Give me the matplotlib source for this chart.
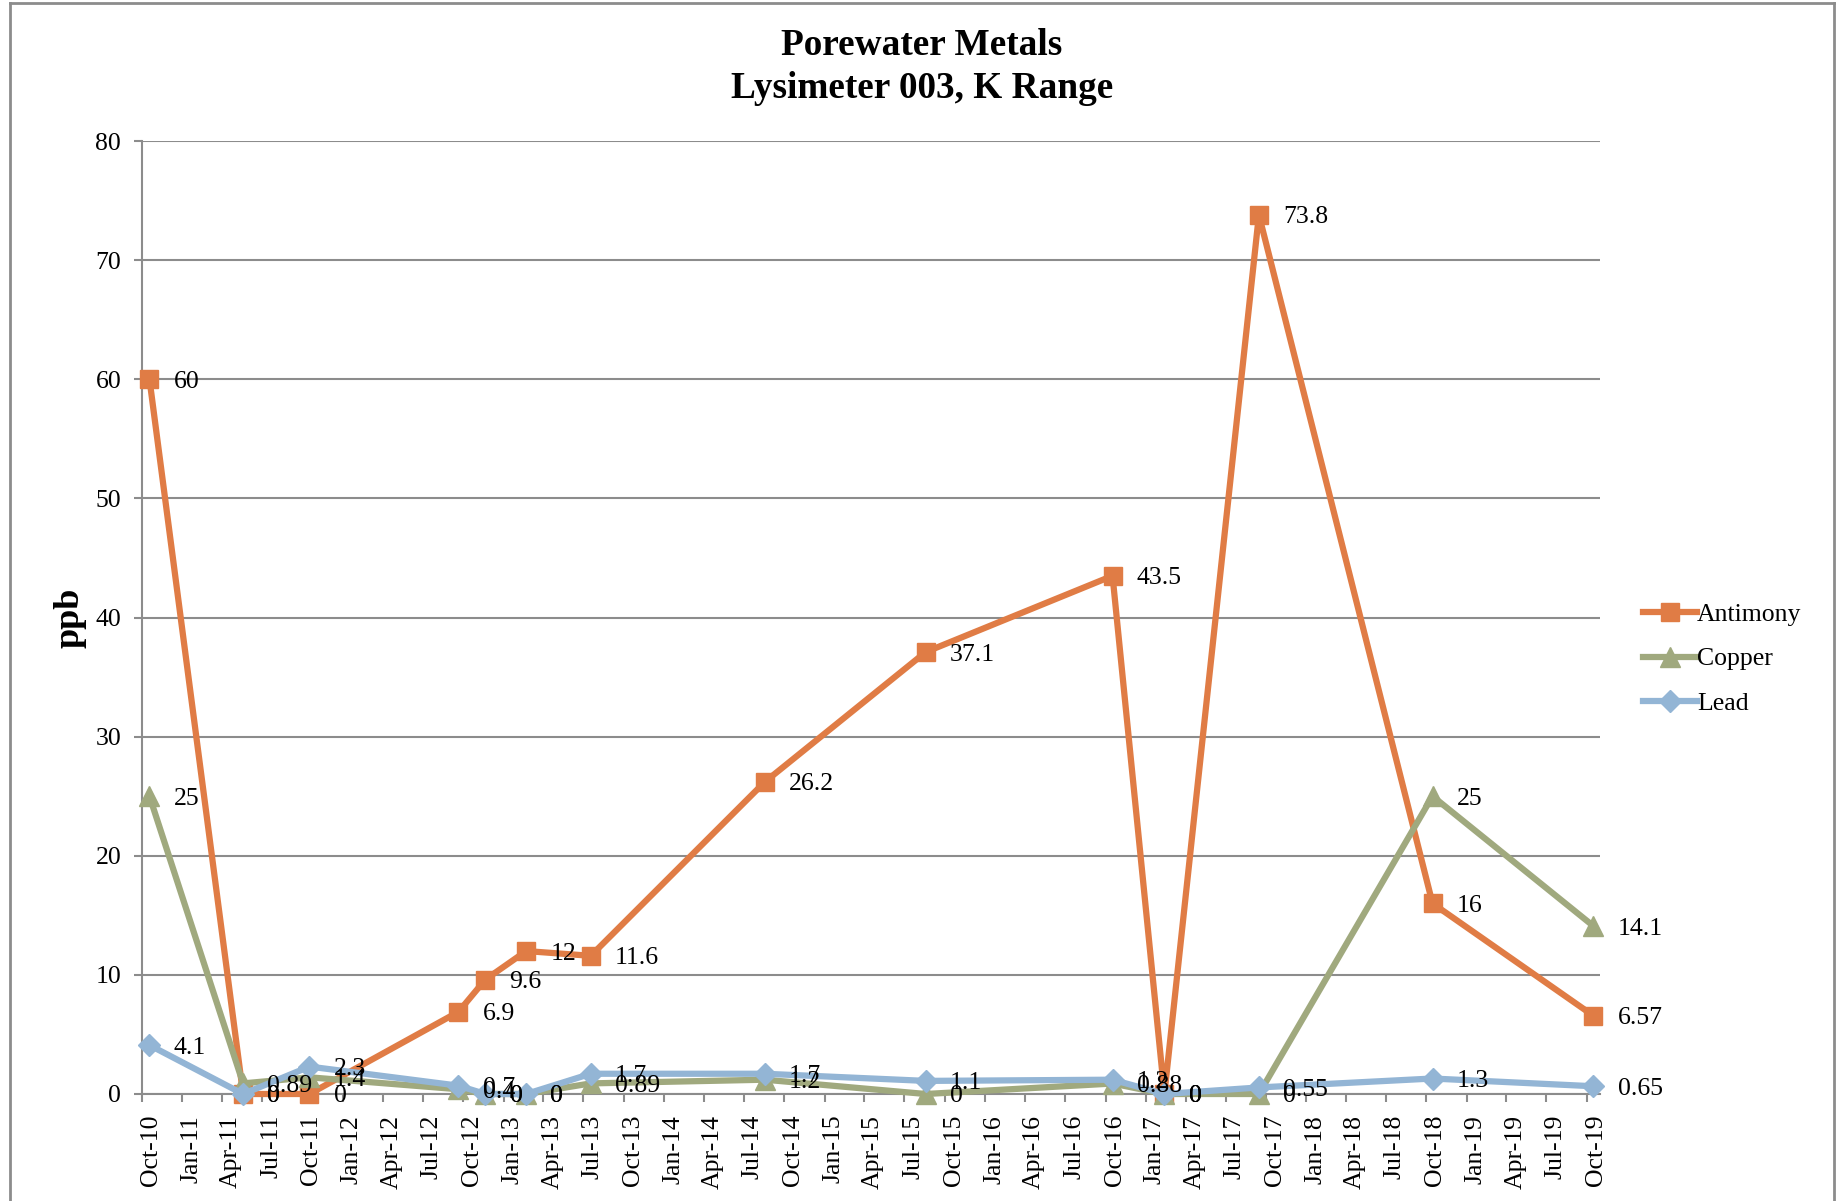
import matplotlib
matplotlib.use("Agg")
import matplotlib.pyplot as plt
import matplotlib.dates as mdates
from matplotlib.lines import Line2D
import datetime as dt

plt.rcParams['font.family'] = ['Liberation Serif', 'DejaVu Serif']

# ---- data ----
dates = ["2010-10-18", "2011-05-19", "2011-10-17", "2012-09-20", "2012-11-20",
         "2013-02-21", "2013-07-18", "2014-08-18", "2015-08-19", "2016-10-17",
         "2017-02-12", "2017-09-15", "2018-10-15", "2019-10-16"]
antimony = [60, 0, 0, 6.9, 9.6, 12, 11.6, 26.2, 37.1, 43.5, 0, 73.8, 16, 6.57]
copper = [25, 0.89, 1.4, 0.4, 0, 0, 0.89, 1.2, 0, 0.88, 0, 0, 25, 14.1]
lead = [4.1, 0, 2.3, 0.7, 0, 0, 1.7, 1.7, 1.1, 1.2, 0, 0.55, 1.3, 0.65]
series_names = ["Antimony", "Copper", "Lead"]
title = "Porewater Metals\nLysimeter 003, K Range"
ylabel = "ppb"
x_start, x_end = "2010-10-01", "2019-10-31"

x = [dt.datetime.strptime(d, "%Y-%m-%d") for d in dates]

W, H = 1845, 1201
fig = plt.figure(figsize=(W / 100, H / 100), dpi=100)
ax = fig.add_axes([142 / W, 1 - 1094 / H, (1600 - 142) / W, (1094 - 141) / H])

colors = ["#E07C45", "#A0A97E", "#93B5D5"]
markers = ["s", "^", "D"]
msizes = [13, 14, 11]
fs = 18.5

for i, (name, vals) in enumerate(zip(series_names, [antimony, copper, lead])):
    ax.plot(x, vals, color=colors[i], lw=4.5, marker=markers[i], ms=msizes[i],
            mec=colors[i], mfc=colors[i], label=name, zorder=3 + i,
            solid_joinstyle='round', clip_on=False)

for vals in [antimony, copper, lead]:
    for xi, v in zip(x, vals):
        ax.annotate(f"{v:g}", (xi, v), xytext=(17.5, 0), textcoords="offset points",
                    ha="left", va="center_baseline", fontsize=fs, color="black",
                    zorder=10, annotation_clip=False)

ax.set_xlim(dt.datetime.strptime(x_start, "%Y-%m-%d"), dt.datetime.strptime(x_end, "%Y-%m-%d"))
ax.set_ylim(0, 80)
ax.set_yticks(range(0, 81, 10))
ax.xaxis.set_major_locator(mdates.MonthLocator(bymonth=[1, 4, 7, 10]))
ax.xaxis.set_major_formatter(mdates.DateFormatter("%b-%y"))
ax.tick_params(axis="x", labelbottom=False)

# x tick labels drawn slightly right of the ticks, as in the reference
for t in ax.get_xticks():
    ax.annotate(mdates.num2date(t).strftime("%b-%y"), (t, 0),
                xycoords=("data", "axes fraction"), xytext=(6.5, -15),
                textcoords="offset points", rotation=90, ha="center", va="top",
                fontsize=fs, annotation_clip=False)

ax.grid(axis="y", color="#8C8C8C", lw=1.5, zorder=0)
ax.set_axisbelow(True)
for s in ["top", "right"]:
    ax.spines[s].set_visible(False)
for s in ["left", "bottom"]:
    ax.spines[s].set_color("#8C8C8C")
    ax.spines[s].set_linewidth(1.5)
ax.tick_params(axis="both", colors="#8C8C8C", width=1.5, labelcolor="black", labelsize=fs)
ax.tick_params(axis="y", length=6, pad=9)
ax.tick_params(axis="x", length=6)

fig.text(70 / W, 1 - 618 / H, ylabel, rotation=90, fontsize=26, fontweight="bold",
         ha="center", va="center")
fig.text(922 / W, 1 - 67 / H, title, fontsize=26.8, fontweight="bold",
         ha="center", va="center", linespacing=1.3)

leg = fig.legend(loc="center left", bbox_to_anchor=(1630 / W, 1 - 659 / H),
                 frameon=False, fontsize=fs, handlelength=2.1, handletextpad=0.0,
                 labelspacing=0.85, borderpad=0)

# outer chart frame
fc = "#8C8C8C"
fig.add_artist(Line2D([10 / W, 10 / W], [0, 1 - 3 / H], color=fc, lw=2, transform=fig.transFigure))
fig.add_artist(Line2D([10 / W, 1834 / W], [1 - 3 / H, 1 - 3 / H], color=fc, lw=2, transform=fig.transFigure))
fig.add_artist(Line2D([1834 / W, 1834 / W], [0, 1 - 3 / H], color=fc, lw=2, transform=fig.transFigure))

fig.savefig("out.png", dpi=100)
